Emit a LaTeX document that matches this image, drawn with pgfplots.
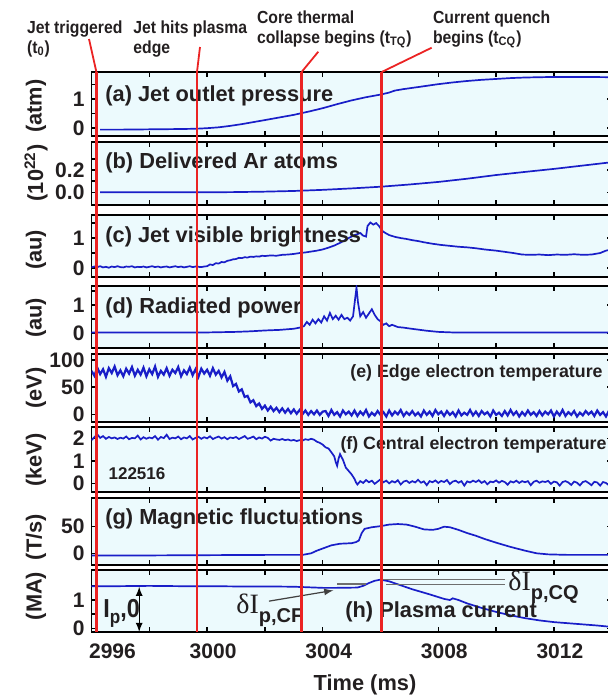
\documentclass[border=0pt]{standalone}
\usepackage{pgfplots}
\pgfplotsset{compat=1.18}
\usepackage{fontspec}
\setmainfont{Liberation Sans}
\newfontfamily\condfont{Liberation Sans}[FakeStretch=0.9]
\newfontfamily\seriffont{Liberation Serif}
\definecolor{bg}{RGB}{236,250,253}
\definecolor{dblue}{RGB}{25,30,200}
\definecolor{rline}{RGB}{235,35,35}
\definecolor{txt}{RGB}{35,31,32}
\definecolor{annot}{RGB}{110,110,110}

\pgfplotsset{
 panel/.style={scale only axis, width=260.1pt, xmin=2996, xmax=3014, anchor=north west,
  axis background/.style={fill=bg},
  axis line style={line width=0.9pt, black},
  tick align=inside, major tick length=2.5pt, minor tick length=1.6pt,
  every tick/.style={black, line width=0.7pt},
  xtick={2996,2998,...,3014}, xticklabels={},
  /pgf/number format/assume math mode=true,
  ticklabel style={font=\fontsize{10.5}{10.5}\selectfont\bfseries, text=txt},
 },
 dat/.style={dblue, line width=0.85pt, no marks},
}
\newcommand\plab{\fontsize{10.9}{12}\selectfont\bfseries\color{txt}}
\newcommand\slab{\fontsize{8.9}{10}\selectfont\bfseries\color{txt}}
\newcommand\tlab{\condfont\fontsize{8.75}{10}\selectfont\bfseries\color{txt}}

\begin{document}
\begin{tikzpicture}
\useasboundingbox (0pt,0pt) rectangle (304pt,-348.5pt);

% (a) Jet outlet pressure
\begin{axis}[panel, at={(45.75pt,-36pt)}, height=32pt, ymin=-0.28, ymax=1.93,
  ytick={0,1}, yticklabels={0,1}, minor ytick={0.5,1.5}]
\addplot[dat] coordinates {(2996.3,-0.06) (2997,-0.06) (2998,-0.05) (2999,-0.04) (2999.6,-0.03)
 (3000.0,-0.01) (3000.4,0.02) (3000.8,0.07) (3001.2,0.13) (3001.6,0.2) (3002.0,0.27) (3002.5,0.36)
 (3003.0,0.45) (3003.5,0.56) (3004.0,0.68) (3004.5,0.82) (3005.0,0.95) (3005.5,1.06) (3006.0,1.15)
 (3006.3,1.22) (3006.5,1.29) (3006.8,1.34) (3007.3,1.41) (3008,1.51) (3008.5,1.57) (3009,1.62)
 (3009.5,1.66) (3010,1.69) (3010.5,1.72) (3011,1.74) (3011.5,1.75) (3012,1.76) (3013,1.76) (3014,1.75)};
\end{axis}

% (b) Delivered Ar atoms
\begin{axis}[panel, at={(45.75pt,-70.85pt)}, height=31.65pt, ymin=-0.114, ymax=0.454,
  ytick={0,0.2}, yticklabels={0.0,0.2}, minor ytick={0.1,0.3}]
\addplot[dat] coordinates {(2996.3,0) (2998,0) (3000,0.0) (3001,0.002) (3002,0.006) (3003,0.012)
 (3004,0.022) (3005,0.035) (3006,0.05) (3007,0.07) (3008,0.093) (3009,0.122) (3010,0.155)
 (3011,0.183) (3012,0.21) (3013,0.24) (3014,0.27)};
\end{axis}

% (c) Jet visible brightness
\begin{axis}[panel, at={(45.75pt,-107.5pt)}, height=30.85pt, ymin=-0.29, ymax=1.77,
  ytick={0,1}, yticklabels={0,1}, minor ytick={0.5,1.5}]
\addplot[dat] coordinates {(2996.0,0.02) (2996.1,0.05) (2996.2,0.03) (2996.3,0.06) (2996.4,0.02)
 (2996.5,0.04) (2996.6,0.01) (2996.7,0.05) (2996.8,0.03) (2996.9,0.06)
 (2997.0,0.03) (2997.1,0.02) (2997.2,0.05) (2997.3,0.04) (2997.4,0.06) (2997.5,0.02) (2997.6,0.04)
 (2997.7,0.03) (2997.8,0.05) (2997.9,0.02) (2998.0,0.04) (2998.1,0.06) (2998.2,0.03) (2998.3,0.05)
 (2998.4,0.02) (2998.5,0.04) (2998.6,0.05) (2998.7,0.02) (2998.8,0.04) (2998.9,0.06)
 (2999.0,0.03) (2999.1,0.05) (2999.2,0.02) (2999.3,0.04) (2999.4,0.06) (2999.5,0.03) (2999.6,0.05)
 (2999.7,0.04) (2999.8,0.03) (2999.9,0.05) (3000.0,0.06) (3000.1,0.12) (3000.2,0.1) (3000.3,0.16)
 (3000.4,0.15) (3000.5,0.2) (3000.6,0.19) (3000.7,0.24) (3000.8,0.26) (3000.9,0.29) (3001.0,0.3)
 (3001.1,0.34) (3001.2,0.33) (3001.3,0.36) (3001.4,0.35) (3001.5,0.38) (3001.6,0.37) (3001.7,0.39)
 (3001.8,0.38) (3001.9,0.41) (3002.0,0.4) (3002.2,0.42) (3002.4,0.41) (3002.6,0.44) (3002.8,0.45)
 (3003.0,0.47) (3003.2,0.5) (3003.4,0.52) (3003.6,0.55) (3003.8,0.58) (3004.0,0.62) (3004.2,0.68)
 (3004.4,0.75) (3004.6,0.84) (3004.8,0.95) (3005.0,1.05) (3005.1,1.1) (3005.2,1.13) (3005.3,1.17)
 (3005.4,1.08) (3005.5,1.05) (3005.55,1.4) (3005.65,1.52) (3005.75,1.45) (3005.85,1.5) (3005.95,1.4)
 (3006.05,1.25) (3006.15,1.18) (3006.3,1.1) (3006.5,1.04) (3006.7,1.0) (3006.9,0.97) (3007.1,0.93)
 (3007.3,0.9) (3007.5,0.86) (3007.8,0.81) (3008.1,0.77) (3008.4,0.74) (3008.7,0.71) (3009.0,0.69)
 (3009.3,0.66) (3009.6,0.62) (3010.0,0.58) (3010.3,0.54) (3010.6,0.5) (3010.9,0.45) (3011.2,0.44)
 (3011.5,0.45) (3011.8,0.43) (3012.1,0.45) (3012.4,0.44) (3012.7,0.46) (3013.0,0.44) (3013.3,0.45)
 (3013.6,0.5) (3013.8,0.58) (3014.0,0.62)};
\end{axis}

% (d) Radiated power
\begin{axis}[panel, at={(45.75pt,-142.85pt)}, height=31.3pt, ymin=-0.53, ymax=1.68,
  ytick={0,1}, yticklabels={0,1}, minor ytick={0.5,1.5}]
\addplot[dat] coordinates {(2996.0,0.03) (2997,0.03) (2998,0.03) (2999,0.03) (3000,0.03) (3000.5,0.04)
 (3001,0.05) (3001.5,0.07) (3002,0.1) (3002.5,0.12) (3003,0.16) (3003.2,0.2) (3003.35,0.25)
 (3003.45,0.4) (3003.55,0.3) (3003.65,0.48) (3003.75,0.35) (3003.85,0.5) (3003.95,0.38) (3004.05,0.6)
 (3004.15,0.45) (3004.25,0.72) (3004.35,0.5) (3004.45,0.62) (3004.55,0.48) (3004.65,0.65) (3004.75,0.5)
 (3004.85,0.55) (3004.95,0.45) (3005.05,0.6) (3005.12,1.2) (3005.17,1.62) (3005.22,1.1) (3005.3,0.6)
 (3005.4,0.75) (3005.5,0.55) (3005.6,0.7) (3005.7,0.85) (3005.8,0.65) (3005.9,0.5) (3006.0,0.42)
 (3006.1,0.3) (3006.2,0.35) (3006.3,0.25) (3006.4,0.3) (3006.6,0.22) (3006.8,0.2) (3007.0,0.17)
 (3007.3,0.13) (3007.6,0.09) (3008.0,0.05) (3008.5,0.03) (3010,0.03) (3012,0.03) (3014,0.03)};
\end{axis}

% (e) Edge electron temperature
\begin{axis}[panel, at={(45.75pt,-177.15pt)}, height=33.7pt, ymin=-13.6, ymax=110.5,
  ytick={0,50,100}, yticklabels={0,50,100}]
\addplot[dblue, line width=1.1pt, no marks] coordinates {
 (2996.0,80) (2996.1,71) (2996.2,86) (2996.3,74) (2996.4,83) (2996.5,69) (2996.6,85) (2996.7,76) (2996.8,88) (2996.9,72)
 (2997.0,81) (2997.1,70) (2997.2,84) (2997.3,75) (2997.4,87) (2997.5,71) (2997.6,82) (2997.7,73) (2997.8,86) (2997.9,70)
 (2998.0,83) (2998.1,74) (2998.2,88) (2998.3,69) (2998.4,80) (2998.5,73) (2998.6,85) (2998.7,71) (2998.8,82) (2998.9,76)
 (2999.0,87) (2999.1,70) (2999.2,81) (2999.3,74) (2999.4,86) (2999.5,72) (2999.6,83) (2999.7,69) (2999.8,84) (2999.9,75)
 (3000.0,82) (3000.1,71) (3000.2,85) (3000.3,73) (3000.4,80) (3000.5,68) (3000.6,78) (3000.7,62) (3000.8,70) (3000.9,52)
 (3001.0,56) (3001.1,42) (3001.2,46) (3001.3,32) (3001.4,34) (3001.5,22) (3001.6,26) (3001.7,15) (3001.8,20) (3001.9,10)
 (3002.0,16) (3002.1,7) (3002.2,14) (3002.3,6) (3002.4,12) (3002.5,4) (3002.6,11) (3002.7,3) (3002.8,10) (3002.9,2)
 (3003.0,9) (3003.1,1) (3003.2,8) (3003.3,0) (3003.4,7) (3003.5,-1) (3003.6,6) (3003.7,0) (3003.8,7) (3003.9,-1)
 (3004.0,5) (3004.1,6) (3004.2,-3) (3004.3,8) (3004.4,-1) (3004.5,4) (3004.6,-4) (3004.7,7) (3004.8,0) (3004.9,5) (3005.0,-2)
 (3005.1,7) (3005.2,-3) (3005.3,5) (3005.4,-1) (3005.5,8) (3005.6,-4) (3005.7,3) (3005.8,-2) (3005.9,6) (3006.0,-1)
 (3006.1,4) (3006.2,-4) (3006.3,7) (3006.4,-2) (3006.5,5) (3006.6,0) (3006.7,8) (3006.8,-3) (3006.9,4) (3007.0,-1)
 (3007.1,6) (3007.2,-2) (3007.3,3) (3007.4,-4) (3007.5,7) (3007.6,-1) (3007.7,5) (3007.8,-3) (3007.9,8) (3008.0,0)
 (3008.1,5) (3008.2,-3) (3008.3,6) (3008.4,-1) (3008.5,4) (3008.6,-4) (3008.7,7) (3008.8,-2) (3008.9,3) (3009.0,-1)
 (3009.1,8) (3009.2,-2) (3009.3,5) (3009.4,-3) (3009.5,6) (3009.6,0) (3009.7,4) (3009.8,-4) (3009.9,7) (3010.0,-1)
 (3010.1,3) (3010.2,-3) (3010.3,6) (3010.4,-2) (3010.5,8) (3010.6,-1) (3010.7,5) (3010.8,-4) (3010.9,4) (3011.0,-2)
 (3011.1,7) (3011.2,-1) (3011.3,4) (3011.4,-3) (3011.5,6) (3011.6,-2) (3011.7,5) (3011.8,0) (3011.9,7) (3012.0,-4)
 (3012.1,5) (3012.2,-2) (3012.3,8) (3012.4,-3) (3012.5,4) (3012.6,-1) (3012.7,6) (3012.8,-4) (3012.9,3) (3013.0,-2)
 (3013.1,6) (3013.2,0) (3013.3,5) (3013.4,-3) (3013.5,7) (3013.6,-1) (3013.7,4) (3013.8,-4) (3013.9,6) (3014.0,-2)};
\end{axis}

% (f) Central electron temperature
\begin{axis}[panel, at={(45.75pt,-213.65pt)}, height=32.2pt, ymin=-0.37, ymax=2.49,
  ytick={0,1,2}, yticklabels={0,1,2}]
\addplot[dat] coordinates {
 (2996.0,1.92) (2996.1,2.05) (2996.2,2.18) (2996.3,2.02) (2996.4,2.1) (2996.5,1.98) (2996.6,2.06) (2996.7,2.0) (2996.8,2.04) (2996.9,1.97)
 (2997.0,2.03) (2997.1,1.99) (2997.2,2.08) (2997.3,1.96) (2997.4,2.02) (2997.5,2.0) (2997.6,2.12) (2997.7,1.95) (2997.8,2.05) (2997.9,1.98)
 (2998.0,2.04) (2998.1,2.0) (2998.2,2.1) (2998.3,1.94) (2998.4,2.06) (2998.5,2.01) (2998.6,2.16) (2998.7,1.97) (2998.8,2.03) (2998.9,2.0)
 (2999.0,2.08) (2999.1,1.96) (2999.2,2.04) (2999.3,2.0) (2999.4,2.1) (2999.5,1.95) (2999.6,2.02) (2999.7,2.07) (2999.8,1.98) (2999.9,2.05)
 (3000.0,2.0) (3000.1,2.09) (3000.2,1.97) (3000.3,2.03) (3000.4,2.08) (3000.5,1.99) (3000.6,2.05) (3000.7,1.96) (3000.8,2.04) (3000.9,2.01)
 (3001.0,2.06) (3001.1,1.97) (3001.2,2.03) (3001.3,2.1) (3001.4,1.98) (3001.5,2.02) (3001.6,2.08) (3001.7,1.96) (3001.8,2.04) (3001.9,1.99)
 (3002.0,2.07) (3002.1,2.02) (3002.2,1.9) (3002.3,1.98) (3002.4,1.95) (3002.5,1.93) (3002.6,1.97) (3002.7,1.92) (3002.8,1.95) (3002.9,1.9)
 (3003.0,1.93) (3003.1,1.88) (3003.2,1.92) (3003.3,1.9) (3003.4,1.96) (3003.5,1.93) (3003.6,1.98) (3003.7,1.94) (3003.8,1.85) (3003.9,1.8)
 (3004.0,1.72) (3004.1,1.6) (3004.2,1.55) (3004.3,1.38) (3004.4,1.2) (3004.45,0.95) (3004.5,0.78) (3004.55,1.1) (3004.6,1.3)
 (3004.7,1.05) (3004.8,0.7) (3004.9,0.55) (3005.0,0.4) (3005.1,0.2) (3005.15,0.05) (3005.2,-0.05)
 (3005.3,0.1) (3005.4,0.02) (3005.5,0.15) (3005.6,0.05) (3005.7,0.12) (3005.8,-0.02) (3005.9,0.08) (3006.0,0.18)
 (3006.1,0.05) (3006.2,0.12) (3006.3,0.0) (3006.4,0.1) (3006.5,0.04) (3006.6,0.14) (3006.7,-0.05) (3006.8,0.08) (3006.9,0.12) (3007.0,0.02)
 (3007.1,0.1) (3007.2,0.04) (3007.3,0.16) (3007.4,0.03) (3007.5,0.09) (3007.6,-0.08) (3007.7,0.1) (3007.8,0.05) (3007.9,0.13) (3008.0,0.02)
 (3008.1,0.11) (3008.2,0.06) (3008.3,0.15) (3008.4,-0.03) (3008.5,0.08) (3008.6,0.12) (3008.7,0.03) (3008.8,0.1) (3008.9,-0.1) (3009.0,0.09)
 (3009.1,0.04) (3009.2,0.12) (3009.3,0.06) (3009.4,0.14) (3009.5,0.02) (3009.6,0.1) (3009.7,-0.04) (3009.8,0.08) (3009.9,0.05) (3010.0,0.13)
 (3010.1,0.03) (3010.2,0.11) (3010.3,0.06) (3010.4,-0.06) (3010.5,0.09) (3010.6,0.04) (3010.7,0.12) (3010.8,0.02) (3010.9,0.1) (3011.0,0.05)
 (3011.1,0.1) (3011.2,-0.08) (3011.3,0.07) (3011.4,0.12) (3011.5,0.03) (3011.6,0.09) (3011.7,0.06) (3011.8,0.11) (3011.9,-0.02) (3012.0,0.08)
 (3012.1,0.05) (3012.2,-0.1) (3012.3,0.06) (3012.4,0.1) (3012.5,0.04) (3012.6,-0.07) (3012.7,0.08) (3012.8,0.03) (3012.9,-0.09) (3013.0,0.06)
 (3013.1,0.1) (3013.2,0.02) (3013.3,-0.08) (3013.4,0.07) (3013.5,0.04) (3013.6,-0.1) (3013.7,0.06) (3013.8,0.02) (3013.9,-0.08) (3014.0,0.05)};
\end{axis}

% (g) Magnetic fluctuations
\begin{axis}[panel, at={(45.75pt,-248.85pt)}, height=33.65pt, ymin=-22, ymax=104.5,
  ytick={0,50}, yticklabels={0,50}]
\addplot[dat] coordinates {(2996.0,-4) (2998,-4) (3000,-3.5) (3002,-3) (3003.3,-3) (3003.6,0) (3003.8,5)
 (3004.0,9) (3004.3,15) (3004.6,18) (3005.0,19) (3005.15,21) (3005.25,24) (3005.35,38) (3005.45,46)
 (3005.7,49) (3006.0,51) (3006.3,54) (3006.6,55) (3006.9,54) (3007.2,50) (3007.5,45) (3007.8,44)
 (3008.0,46) (3008.2,50) (3008.4,49) (3008.7,44) (3009.0,38) (3009.3,33) (3009.6,27) (3010.0,20)
 (3010.5,12) (3011.0,5) (3011.4,0) (3011.8,-2) (3012.5,-3) (3014.0,-3)};
\end{axis}

% (h) Plasma current
\begin{axis}[panel, at={(45.75pt,-285pt)}, height=31.15pt, ymin=-0.14, ymax=2.06,
  ytick={0,1}, yticklabels={0,1}, minor ytick={0.5,1.5},
  xticklabels={\hspace*{15pt}2996,,3000,,3004,,3008,,3012,},
  xticklabel style={yshift=-2pt, xshift=3pt}]
\addplot[dat] coordinates {(2996.0,1.49) (2997,1.49) (2998,1.5) (2999,1.49) (3000,1.49) (3001,1.48)
 (3002,1.48) (3003,1.47) (3003.5,1.45) (3004,1.43) (3004.5,1.43) (3005.2,1.44) (3005.4,1.5)
 (3005.6,1.6) (3005.8,1.68) (3006.0,1.72) (3006.3,1.66) (3006.7,1.52) (3007.1,1.38) (3007.7,1.2)
 (3008.2,1.04) (3008.4,1.0) (3008.5,1.06) (3008.7,1.0) (3009.0,0.88) (3009.5,0.72) (3010.0,0.58)
 (3010.5,0.46) (3011.0,0.36) (3011.5,0.28) (3012.0,0.22) (3012.5,0.18) (3013.0,0.14) (3013.5,0.1) (3014.0,0.05)};
\addplot[annot, line width=0.8pt, no marks] coordinates {(3004.5,1.57) (3005.5,1.57)};
\addplot[annot, line width=0.8pt, no marks] coordinates {(3006.0,1.73) (3010.3,1.73)};
\addplot[annot, line width=0.8pt, no marks] coordinates {(3006.2,1.55) (3010.3,1.55)};
\addplot[black!75, line width=0.6pt, no marks, -{latex}] coordinates {(3002.14,0.96) (3004.37,1.34)};
\addplot[black, line width=0.6pt, no marks, {latex}-{latex}] coordinates {(2997.65,1.47) (2997.65,-0.13)};
\end{axis}

% y labels
\begin{scope}[every node/.style={rotate=90, font=\fontsize{10.9}{12}\selectfont\bfseries, text=txt}]
\node at (18pt,-53pt) {(atm)};
\node at (18pt,-86.5pt) {(10\textsuperscript{22})};
\node at (18pt,-125pt) {(au)};
\node at (18pt,-159pt) {(au)};
\node at (18pt,-194pt) {(eV)};
\node at (18pt,-230pt) {(keV)};
\node at (18pt,-268.5pt) {(T/s)};
\node at (18pt,-298pt) {(MA)};
\end{scope}

\node[font=\fontsize{10.9}{12}\selectfont\bfseries, text=txt, anchor=base] at (182.5pt,-345pt) {Time (ms)};

% panel labels
\begin{scope}[every node/.style={inner sep=0pt}]
\node[anchor=base west] at (52.5pt,-50.85pt) {\plab (a) Jet outlet pressure};
\node[anchor=base west] at (52.5pt,-84.35pt) {\plab (b) Delivered Ar atoms};
\node[anchor=base west] at (52.5pt,-121.2pt) {\plab (c) Jet visible brightness};
\node[anchor=base west] at (52.5pt,-156.6pt) {\plab (d) Radiated power};
\node[anchor=base east] at (301.5pt,-188.6pt) {\slab (e) Edge electron temperature};
\node[anchor=base east] at (303.5pt,-224.85pt) {\slab (f) Central electron temperature};
\node[anchor=base west] at (52.5pt,-262.35pt) {\plab (g) Magnetic fluctuations};
\node[anchor=base west] at (172.5pt,-308.7pt) {\plab (h) Plasma current};
\node[anchor=base] at (68.5pt,-239.7pt) {\fontsize{8.5}{10}\selectfont\bfseries\color{txt}122516};
% annotations in (h)
\node[anchor=base west] at (118pt,-306.5pt) {\color{txt}{\seriffont\fontsize{14}{14}\selectfont δI}\raisebox{-4.5pt}{\fontsize{10}{10}\selectfont\bfseries p,CF}};
\node[anchor=base west] at (254pt,-295pt) {\color{txt}{\seriffont\fontsize{14}{14}\selectfont δI}\raisebox{-4.5pt}{\fontsize{10}{10}\selectfont\bfseries p,CQ}};
\node[anchor=base west] at (51.5pt,-308.5pt) {\color{txt}\condfont\fontsize{13}{13}\selectfont\bfseries I\raisebox{-3pt}{\fontsize{9.5}{9.5}\selectfont p},0};
% top labels
\node[anchor=base west] at (13.35pt,-16.65pt) {\tlab Jet triggered};
\node[anchor=base west] at (13.35pt,-26.65pt) {\tlab (t\textsubscript{0})};
\node[anchor=base west] at (66.5pt,-16.65pt) {\tlab Jet hits plasma};
\node[anchor=base west] at (66.5pt,-26.65pt) {\tlab edge};
\node[anchor=base west] at (128.35pt,-11.65pt) {\tlab Core thermal};
\node[anchor=base west] at (128.35pt,-21.65pt) {\tlab collapse begins (t\textsubscript{TQ})};
\node[anchor=base west] at (216.35pt,-11.65pt) {\tlab Current quench};
\node[anchor=base west] at (216.35pt,-21.65pt) {\tlab begins (t\textsubscript{CQ})};
\end{scope}

% event lines
\begin{scope}[rline]
\draw[line width=1.35pt] (48.2pt,-36pt) -- (48.2pt,-316.15pt);
\draw[line width=1.35pt] (98.5pt,-36pt) -- (98.5pt,-316.15pt);
\draw[line width=1.35pt] (150.8pt,-36pt) -- (150.8pt,-316.15pt);
\draw[line width=1.35pt] (190.85pt,-36pt) -- (190.85pt,-316.15pt);
\draw[line width=0.9pt] (44.5pt,-19.5pt) -- (48.2pt,-36pt);
\draw[line width=0.9pt] (100pt,-23.5pt) -- (98.5pt,-36pt);
\draw[line width=0.9pt] (159.15pt,-25.85pt) -- (150.8pt,-36pt);
\draw[line width=0.9pt] (215.85pt,-23.85pt) -- (190.85pt,-36pt);
\end{scope}
\end{tikzpicture}
\end{document}
